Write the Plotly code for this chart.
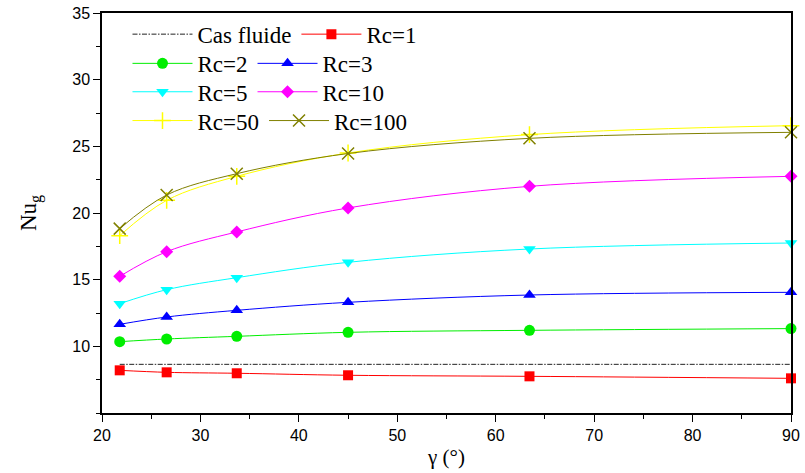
import plotly.graph_objects as go

# Inclination angle of the cavity (degrees)
gamma = [21.8, 26.57, 33.69, 45.0, 63.43, 90.0]

# Global Nusselt number for each conductivity ratio Rc
nu_fluid = [8.65, 8.65]
nu_rc1 = [8.2, 8.05, 7.98, 7.83, 7.75, 7.6]
nu_rc2 = [10.35, 10.55, 10.75, 11.05, 11.2, 11.33]
nu_rc3 = [11.65, 12.2, 12.7, 13.3, 13.85, 14.05]
nu_rc5 = [13.2, 14.25, 15.15, 16.3, 17.3, 17.75]
nu_rc10 = [15.25, 17.1, 18.58, 20.38, 22.0, 22.75]
nu_rc50 = [18.3, 20.95, 22.75, 24.5, 25.88, 26.55]
nu_rc100 = [18.83, 21.35, 22.95, 24.46, 25.6, 26.05]

x_ticks = [20, 30, 40, 50, 60, 70, 80, 90]
y_ticks = [10, 15, 20, 25, 30, 35]

SERIF = "Liberation Serif"
SANS = "Liberation Sans"

fig = go.Figure()

fig.add_trace(go.Scatter(
    x=[gamma[0], gamma[-1]], y=nu_fluid, mode="lines", name="Cas fluide",
    line=dict(color="#222222", width=1, dash="5px,1.5px,1.5px,1.5px"),
    legend="legend"))

series = [
    ("Rc=1", nu_rc1, "#FF0000", "square", 10, "legend"),
    ("Rc=2", nu_rc2, "#00EE00", "circle", 11, "legend2"),
    ("Rc=3", nu_rc3, "#0000FF", "triangle-up", 11, "legend2"),
    ("Rc=5", nu_rc5, "#00FFFF", "triangle-down", 11, "legend3"),
    ("Rc=10", nu_rc10, "#FF00FF", "diamond", 10, "legend3"),
    ("Rc=50", nu_rc50, "#FFFF00", "cross-thin", 12, "legend4"),
    ("Rc=100", nu_rc100, "#808000", "x-thin", 12, "legend4"),
]

for name, ys, color, symbol, size, leg in series:
    thin = symbol.endswith("-thin")
    fig.add_trace(go.Scatter(
        x=gamma, y=ys, mode="lines+markers", name=name, cliponaxis=False,
        line=dict(color=color, width=1, shape="spline"),
        marker=dict(symbol=symbol, size=size, color=color,
                    line=dict(color=color, width=1.5 if thin else 0)),
        legend=leg))

row_y = [0.947, 0.874, 0.803, 0.731]
legends = {}
for i, key in enumerate(["legend", "legend2", "legend3", "legend4"]):
    legends[key] = dict(
        orientation="h", xanchor="left", yanchor="middle",
        x=0.037, y=row_y[i],
        bgcolor="rgba(0,0,0,0)", borderwidth=0, itemwidth=60,
        font=dict(family=SERIF, size=23, color="black"),
        tracegroupgap=0, itemclick=False)

fig.update_layout(
    width=805, height=473,
    margin=dict(l=102, r=14, t=13, b=60, autoexpand=False),
    paper_bgcolor="white", plot_bgcolor="white",
    font=dict(family=SERIF, color="black"),
    showlegend=True,
    **legends,
    xaxis=dict(
        range=[20, 90], tickvals=x_ticks, ticks="outside", ticklen=7,
        tickwidth=1, tickcolor="black", showline=True, linecolor="black",
        linewidth=1.5, mirror=True, showgrid=False, zeroline=False,
        automargin=True,
        tickfont=dict(family=SANS, size=16, color="black"),
        minor=dict(ticks="outside", ticklen=4, dtick=5, tick0=0,
                   tickcolor="black", showgrid=False),
        title=dict(text="γ (°)", font=dict(family=SERIF, size=21, color="black"),
                   standoff=6),
    ),
    yaxis=dict(
        range=[5, 35], tickvals=y_ticks, ticks="outside", ticklen=7,
        tickwidth=1, tickcolor="black", showline=True, linecolor="black",
        linewidth=1.5, mirror=True, showgrid=False, zeroline=False,
        automargin=False,
        tickfont=dict(family=SANS, size=16, color="black"),
        minor=dict(ticks="outside", ticklen=4, dtick=2.5, tick0=0,
                   tickcolor="black", showgrid=False),
        title=dict(text="Nu<sub>g</sub>", font=dict(family=SERIF, size=23, color="black"),
                   standoff=29),
    ),
)

fig.write_html("out.html")
